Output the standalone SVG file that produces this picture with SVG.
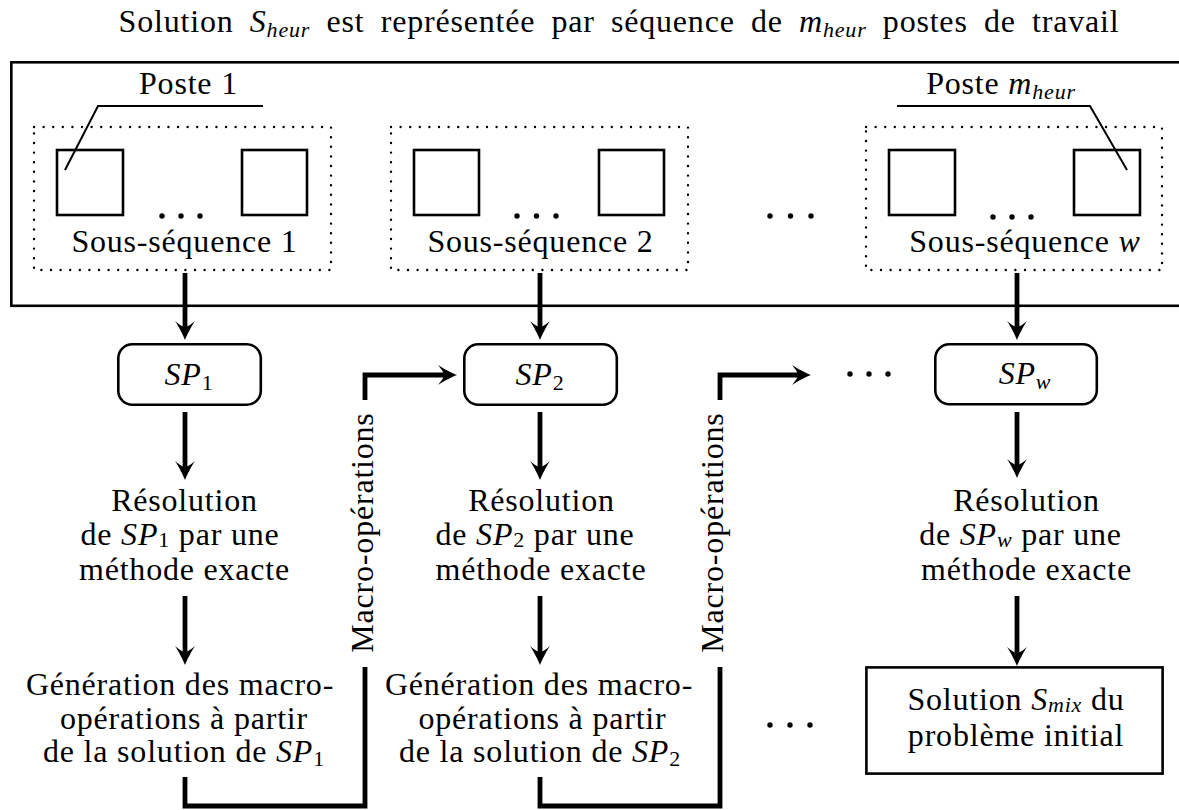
<svg xmlns="http://www.w3.org/2000/svg" width="1179" height="810" viewBox="0 0 1179 810">
<style>
.t{font-family:'Liberation Serif','Times New Roman',serif;font-size:32px;letter-spacing:0.8px;fill:#000}
.i{font-style:italic}
.sub{font-size:22px;font-style:italic}
.subr{font-size:22px}
.box{fill:none;stroke:#000;stroke-width:2.6}
.dot{fill:none;stroke:#000;stroke-width:2.4;stroke-linecap:round;stroke-dasharray:0 9.6}
.lead{fill:none;stroke:#000;stroke-width:2}
.conn{fill:none;stroke:#000;stroke-width:4.8;stroke-linejoin:miter;stroke-linecap:butt}
.arr{marker-end:url(#ah)}
.d{fill:#000}
</style>
<defs>
<marker id="ah" markerUnits="userSpaceOnUse" viewBox="-12 -11 24 22" refX="0" refY="0" markerWidth="24" markerHeight="22" orient="auto">
<path d="M10,0 C5,-2 -3,-6 -9,-10 C-5,-5 -3,-2 -3,0 C-3,2 -5,5 -9,10 C-3,6 5,2 10,0 Z" fill="#000"/>
</marker>
</defs>
<rect width="1179" height="810" fill="#fff"/>

<g id="title">
<text class="t" x="619" y="32" text-anchor="middle" word-spacing="7.5">Solution <tspan class="i">S</tspan><tspan class="sub" dy="5">heur</tspan><tspan dy="-5"> est représentée par séquence de </tspan><tspan class="i">m</tspan><tspan class="sub" dy="5">heur</tspan><tspan dy="-5"> postes de travail</tspan></text>
</g>

<g id="sequence">
<rect class="box" x="11.3" y="62.3" width="1200" height="243.5"/>
</g>

<g id="subseq1">
<rect class="dot" x="34" y="127" width="297" height="143"/>
<rect class="box" x="57" y="150" width="66" height="65"/>
<rect class="box" x="242" y="150" width="65" height="65"/>
<circle class="d" cx="162" cy="216" r="2.7"/><circle class="d" cx="181" cy="216" r="2.7"/><circle class="d" cx="200" cy="216" r="2.7"/>
<text class="t" x="184.5" y="252" text-anchor="middle">Sous-séquence 1</text>
</g>

<g id="poste1">
<text class="t" x="188.5" y="94" text-anchor="middle">Poste 1</text>
<path class="lead" d="M263,106 H98 L65,170"/>
</g>

<g id="subseq2">
<rect class="dot" x="391" y="127" width="297" height="143"/>
<rect class="box" x="414" y="150" width="65" height="65"/>
<rect class="box" x="599" y="150" width="65" height="65"/>
<circle class="d" cx="517" cy="216" r="2.7"/><circle class="d" cx="536.5" cy="216" r="2.7"/><circle class="d" cx="556" cy="216" r="2.7"/>
<text class="t" x="540.5" y="252" text-anchor="middle">Sous-séquence 2</text>
</g>

<g id="dots-top">
<circle class="d" cx="770" cy="216" r="2.7"/><circle class="d" cx="790.5" cy="216" r="2.7"/><circle class="d" cx="811" cy="216" r="2.7"/>
</g>

<g id="subseqw">
<rect class="dot" x="866" y="127" width="296" height="143"/>
<rect class="box" x="889" y="150" width="66" height="65"/>
<rect class="box" x="1074" y="150" width="66" height="65"/>
<circle class="d" cx="993" cy="217" r="2.7"/><circle class="d" cx="1012" cy="217" r="2.7"/><circle class="d" cx="1031" cy="217" r="2.7"/>
<text class="t" x="1025" y="252" text-anchor="middle">Sous-séquence <tspan class="i">w</tspan></text>
</g>

<g id="postem">
<text class="t" x="1001" y="94" text-anchor="middle">Poste <tspan class="i">m</tspan><tspan class="sub" dy="5">heur</tspan></text>
<path class="lead" d="M897,106 H1090 L1127,170"/>
</g>

<g id="sp1">
<rect class="box" x="118.3" y="344.3" width="142.5" height="60.5" rx="14"/>
<text class="t" x="189" y="385" text-anchor="middle"><tspan class="i">SP</tspan><tspan class="subr" dy="5">1</tspan></text>
</g>
<g id="sp2">
<rect class="box" x="464.3" y="344.3" width="152.5" height="60.5" rx="14"/>
<text class="t" x="540" y="385" text-anchor="middle"><tspan class="i">SP</tspan><tspan class="subr" dy="5">2</tspan></text>
</g>
<g id="spw">
<rect class="box" x="935.3" y="344.3" width="161.5" height="60" rx="14"/>
<text class="t" x="1025" y="384" text-anchor="middle"><tspan class="i">SP</tspan><tspan class="sub" dy="5">w</tspan></text>
</g>
<g id="dots-sp">
<circle class="d" cx="850" cy="374" r="2.7"/><circle class="d" cx="869" cy="374" r="2.7"/><circle class="d" cx="888" cy="374" r="2.7"/>
</g>

<g id="res1">
<text class="t" x="184.5" y="511" text-anchor="middle">Résolution</text>
<text class="t" x="180" y="545" text-anchor="middle">de <tspan class="i">SP</tspan><tspan class="subr" dy="2">1</tspan><tspan dy="-2"> par une</tspan></text>
<text class="t" x="184.5" y="580" text-anchor="middle">méthode exacte</text>
</g>
<g id="res2">
<text class="t" x="541.5" y="511" text-anchor="middle">Résolution</text>
<text class="t" x="535" y="545" text-anchor="middle">de <tspan class="i">SP</tspan><tspan class="subr" dy="2">2</tspan><tspan dy="-2"> par une</tspan></text>
<text class="t" x="541" y="580" text-anchor="middle">méthode exacte</text>
</g>
<g id="resw">
<text class="t" x="1026.5" y="511" text-anchor="middle">Résolution</text>
<text class="t" x="1020.5" y="545" text-anchor="middle">de <tspan class="i">SP</tspan><tspan class="sub" dy="2">w</tspan><tspan dy="-2"> par une</tspan></text>
<text class="t" x="1026.5" y="580" text-anchor="middle">méthode exacte</text>
</g>

<g id="gen1">
<text class="t" x="180" y="695" text-anchor="middle">Génération des macro-</text>
<text class="t" x="184" y="729" text-anchor="middle">opérations à partir</text>
<text class="t" x="184" y="762" text-anchor="middle">de la solution de <tspan class="i">SP</tspan><tspan class="subr" dy="4">1</tspan></text>
</g>
<g id="gen2">
<text class="t" x="539" y="695" text-anchor="middle">Génération des macro-</text>
<text class="t" x="542.5" y="729" text-anchor="middle">opérations à partir</text>
<text class="t" x="540" y="762" text-anchor="middle">de la solution de <tspan class="i">SP</tspan><tspan class="subr" dy="4">2</tspan></text>
</g>
<g id="dots-bottom">
<circle class="d" cx="770" cy="725" r="2.7"/><circle class="d" cx="790" cy="725" r="2.7"/><circle class="d" cx="810" cy="725" r="2.7"/>
</g>
<g id="solution">
<rect class="box" x="866.4" y="667.4" width="296.2" height="106.2"/>
<text class="t" x="1016" y="710" text-anchor="middle">Solution <tspan class="i">S</tspan><tspan class="sub" dy="2">mix</tspan><tspan dy="-2"> du</tspan></text>
<text class="t" x="1016" y="746" text-anchor="middle">problème initial</text>
</g>

<g id="connectors">
<path class="conn arr" d="M185,273 V330"/>
<path class="conn arr" d="M540,273 V330"/>
<path class="conn arr" d="M1017,273 V330"/>
<path class="conn arr" d="M185,412 V470"/>
<path class="conn arr" d="M540,412 V470"/>
<path class="conn arr" d="M1017,412 V468"/>
<path class="conn arr" d="M185,596 V655"/>
<path class="conn arr" d="M540,596 V655"/>
<path class="conn arr" d="M1017,596 V656"/>
<path class="conn" d="M185,777 V806 H365 V667"/>
<path class="conn arr" d="M365,400 V375 H447"/>
<path class="conn" d="M540,777 V806 H720 V667"/>
<path class="conn arr" d="M720,400 V375 H801"/>
<text class="t" transform="translate(373,532.5) rotate(-90)" x="0" y="0" text-anchor="middle">Macro-opérations</text>
<text class="t" transform="translate(723,532.5) rotate(-90)" x="0" y="0" text-anchor="middle">Macro-opérations</text>
</g>
</svg>
